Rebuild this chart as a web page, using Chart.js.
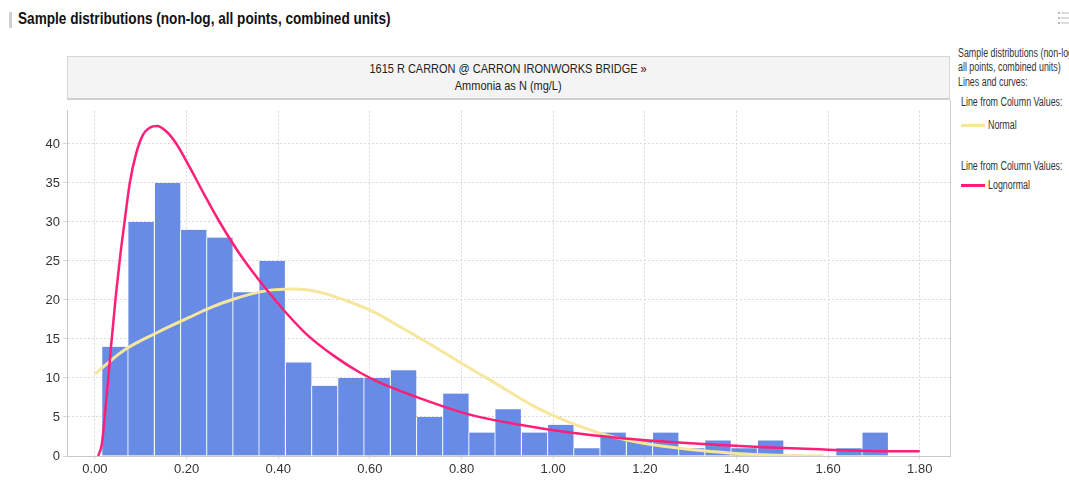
<!DOCTYPE html>
<html>
<head>
<meta charset="utf-8">
<script src="https://cdn.jsdelivr.net/npm/chart.js@4"></script>
<style>
  body { margin: 0; width: 1069px; height: 480px; overflow: hidden; background: #fff; position: relative;
         font-family: 'Liberation Sans Narrow', 'Arial Narrow', 'Liberation Sans', sans-serif; color: #222; }
  .narrow { display: inline-block; transform: scaleX(0.8); transform-origin: left center; white-space: nowrap; }
  .mark { position: absolute; left: 9px; top: 12px; width: 3px; height: 16px; background: #d0d0d0; }
  .title { position: absolute; left: 18px; top: 9px; font-size: 17px; font-weight: bold; color: #111; }
  .menu { position: absolute; left: 1058px; top: 12px; }
  .menu div { width: 8px; height: 2px; margin-bottom: 3px; border-left: 2px solid #bbb; background: #ddd; background-clip: content-box; padding-left: 1px; }
  .head { position: absolute; left: 67px; top: 56px; width: 883px; height: 44px; background: #f4f4f4;
          border: 1px solid #d6d6d6; border-bottom: 2px solid #cfcfcf; text-align: center; font-size: 13px; line-height: 17px; color: #222; padding-top: 3px; box-sizing: border-box; }
  .head div span { display: inline-block; transform: scaleX(0.845); white-space: nowrap; }
  .rborder { position: absolute; left: 950px; top: 100px; width: 1px; height: 356px; background: #cfcfcf; }
  #wrap { position: absolute; left: 0; top: 100px; width: 960px; height: 380px; }
  .lg { position: absolute; font-size: 12px; color: #333; white-space: nowrap; }
  .lg .narrow { transform: scaleX(0.74); }
  .sw { position: absolute; width: 24px; height: 3px; }
</style>
</head>
<body>
<div class="mark"></div>
<div class="title"><span class="narrow">Sample distributions (non-log, all points, combined units)</span></div>
<div class="menu"><div></div><div></div><div></div></div>

<div class="head">
  <div><span>1615 R CARRON @ CARRON IRONWORKS BRIDGE &raquo;</span></div>
  <div><span>Ammonia as N (mg/L)</span></div>
</div>

<div id="wrap"><canvas id="chart" width="960" height="380"></canvas></div>
<div class="rborder"></div>

<div class="lg" style="left:958px; top:46px;"><span class="narrow">Sample distributions (non-log</span></div>
<div class="lg" style="left:958px; top:60px;"><span class="narrow">all points, combined units)</span></div>
<div class="lg" style="left:958px; top:75px;"><span class="narrow">Lines and curves:</span></div>
<div class="lg" style="left:961px; top:95px;"><span class="narrow">Line from Column Values:</span></div>
<div class="sw" style="left:961px; top:124px; background:#f7e79d;"></div>
<div class="lg" style="left:988px; top:118px;"><span class="narrow">Normal</span></div>
<div class="lg" style="left:961px; top:159px;"><span class="narrow">Line from Column Values:</span></div>
<div class="sw" style="left:961px; top:184px; background:#ff1f78;"></div>
<div class="lg" style="left:988px; top:178px;"><span class="narrow">Lognormal</span></div>

<script>
// histogram bins: centre of each bin (mg/L) and the sample count in it
const binCenters = [
  0.043, 0.100, 0.158, 0.215, 0.272, 0.329, 0.386, 0.444, 0.501, 0.558,
  0.615, 0.673, 0.730, 0.787, 0.844, 0.901, 0.959, 1.016, 1.073, 1.130,
  1.188, 1.245, 1.302, 1.359, 1.416, 1.474, 1.531, 1.588, 1.645, 1.702
];
const binCounts = [
  14, 30, 35, 29, 28, 21, 25, 12, 9, 10,
  10, 11, 5, 8, 3, 6, 3, 4, 1, 3,
  2, 3, 1, 2, 1, 2, 0, 0, 1, 3
];

// fitted normal curve (scaled to counts)
const normalX = [0.000, 0.062, 0.135, 0.207, 0.251, 0.302, 0.375, 0.433, 0.491, 0.549,
                 0.607, 0.665, 0.738, 0.811, 0.869, 0.964, 1.036, 1.109, 1.182, 1.255,
                 1.327, 1.400, 1.473, 1.590];
const normalY = [10.5, 13.5, 15.8, 17.8, 19.0, 20.1, 21.2, 21.4, 21.0, 19.9,
                 18.5, 16.6, 14.1, 11.5, 9.5, 6.2, 4.3, 2.8, 1.8, 1.15,
                 0.66, 0.33, 0.12, 0.02];

// fitted lognormal curve (scaled to counts)
const lognormX = [0.007, 0.015, 0.022, 0.028, 0.035, 0.045, 0.055, 0.065, 0.076, 0.090,
                  0.105, 0.120, 0.135, 0.156, 0.178, 0.207, 0.236, 0.273, 0.316, 0.360,
                  0.389, 0.418, 0.462, 0.520, 0.578, 0.622, 0.700, 0.818, 0.927, 1.036,
                  1.145, 1.255, 1.364, 1.473, 1.582, 1.691, 1.800];
const lognormY = [0, 1.5, 5.5, 9.2, 14.0, 20.2, 25.6, 30.2, 35.0, 38.8,
                  41.2, 42.1, 42.3, 41.6, 40.0, 37.0, 33.8, 29.9, 25.9, 22.4,
                  20.3, 18.3, 15.6, 12.9, 10.7, 9.4, 7.6, 5.3, 4.0, 3.0,
                  2.3, 1.8, 1.4, 1.1, 0.85, 0.65, 0.6];

const xTicks = [0, 0.2, 0.4, 0.6, 0.8, 1.0, 1.2, 1.4, 1.6, 1.8];
const xTickLabels = ['0.00', '0.20', '0.40', '0.60', '0.80', '1.00', '1.20', '1.40', '1.60', '1.80'];
const yTicks = [0, 5, 10, 15, 20, 25, 30, 35, 40];
const yTickLabels = ['0', '5', '10', '15', '20', '25', '30', '35', '40'];

const FONT = "'Liberation Sans Narrow', 'Arial Narrow', 'Liberation Sans', sans-serif";
const pts = (xs, ys) => xs.map((x, i) => ({ x: x, y: ys[i] }));

new Chart(document.getElementById('chart'), {
  data: {
    datasets: [
      {
        type: 'line',
        label: 'Lognormal',
        data: pts(lognormX, lognormY),
        borderColor: '#ff1f78',
        borderWidth: 2.5,
        pointRadius: 0,
        cubicInterpolationMode: 'monotone',
        order: 1
      },
      {
        type: 'line',
        label: 'Normal',
        data: pts(normalX, normalY),
        borderColor: '#f7e79d',
        borderWidth: 3,
        pointRadius: 0,
        cubicInterpolationMode: 'monotone',
        order: 2
      },
      {
        type: 'bar',
        label: 'Samples',
        data: pts(binCenters, binCounts),
        backgroundColor: '#688ce6',
        borderColor: 'rgba(255,255,255,0.75)',
        borderWidth: { left: 1, top: 0, right: 0, bottom: 0 },
        borderSkipped: false,
        barPercentage: 1,
        categoryPercentage: 1,
        order: 3
      }
    ]
  },
  options: {
    responsive: false,
    animation: false,
    layout: { padding: { top: 2, right: 10, left: 0, bottom: 0 } },
    plugins: { legend: { display: false }, tooltip: { enabled: false } },
    scales: {
      x: {
        type: 'linear',
        offset: false,
        min: -0.061,
        max: 1.866,
        afterBuildTicks: s => { s.ticks = xTicks.map(v => ({ value: v })); },
        afterFit: s => { s.height = 24; },
        ticks: {
          callback: (v) => xTickLabels[xTicks.findIndex(t => Math.abs(t - v) < 1e-6)],
          font: { family: FONT, size: 13 }, color: '#333', padding: 3, maxRotation: 0
        },
        grid: { color: '#d9d9d9', tickLength: 3, offset: false },
        border: { color: '#c8c8c8', dash: [2, 2] }
      },
      y: {
        min: 0,
        max: 44.25,
        afterBuildTicks: s => { s.ticks = yTicks.map(v => ({ value: v })); },
        afterFit: s => { s.width = 67; },
        ticks: {
          callback: (v) => yTickLabels[yTicks.indexOf(v)],
          font: { family: FONT, size: 13 }, color: '#333', padding: 3
        },
        grid: { color: '#d9d9d9', tickLength: 4 },
        border: { color: '#c8c8c8', dash: [2, 2] }
      }
    }
  }
});
</script>
</body>
</html>
